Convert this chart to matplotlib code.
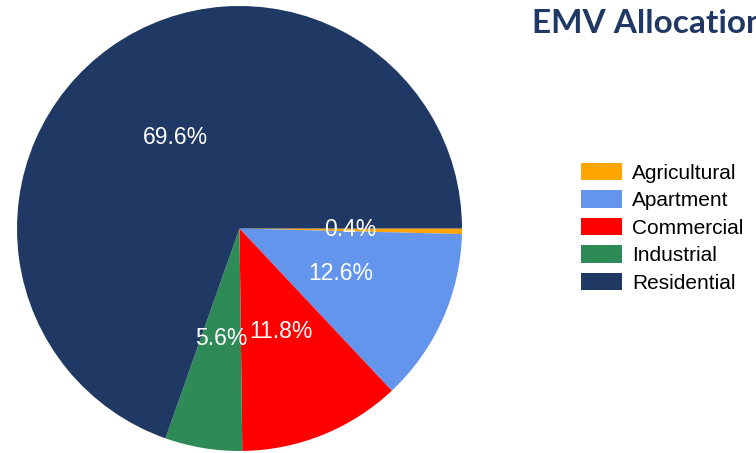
import matplotlib
matplotlib.use("Agg")
import matplotlib.pyplot as plt

categories = ["Agricultural", "Apartment", "Commercial", "Industrial", "Residential"]
values = [0.4, 12.6, 11.8, 5.6, 69.6]
colors = ["#FFA500", "#6495ED", "#FF0000", "#2E8B57", "#1F3864"]
title = "EMV Allocation"

W, H = 756, 453
fig = plt.figure(figsize=(W / 100, H / 100), dpi=100)

cx, cy, r = 239.5, 228.5, 222.5
ax = fig.add_axes([(cx - r) / W, (H - cy - r) / H, 2 * r / W, 2 * r / H])
wedges, texts, autotexts = ax.pie(
    values, colors=colors, startangle=0, counterclock=False,
    autopct="%1.1f%%", pctdistance=0.5, radius=1,
    textprops=dict(color="white", fontsize=16.5, family="Liberation Sans"),
)
ax.set_xlim(-1, 1)
ax.set_ylim(-1, 1)
ax.set_aspect("equal")
ax.axis("off")

fig.text(532 / W, 1 - 33 / H, title, fontsize=24, fontweight="bold",
         family="Lato", color="#1F3864", ha="left", va="baseline")

fs = 15
fpx = fs * 100 / 72
leg = fig.legend(wedges, categories, loc="upper left",
                 bbox_to_anchor=(581 / W, 1 - 163 / H),
                 frameon=False, borderpad=0, borderaxespad=0,
                 handlelength=41 / fpx, handleheight=19 / fpx,
                 handletextpad=10 / fpx, labelspacing=0.36,
                 prop=dict(family="Liberation Sans", size=fs))

fig.savefig("out.png", dpi=100)
